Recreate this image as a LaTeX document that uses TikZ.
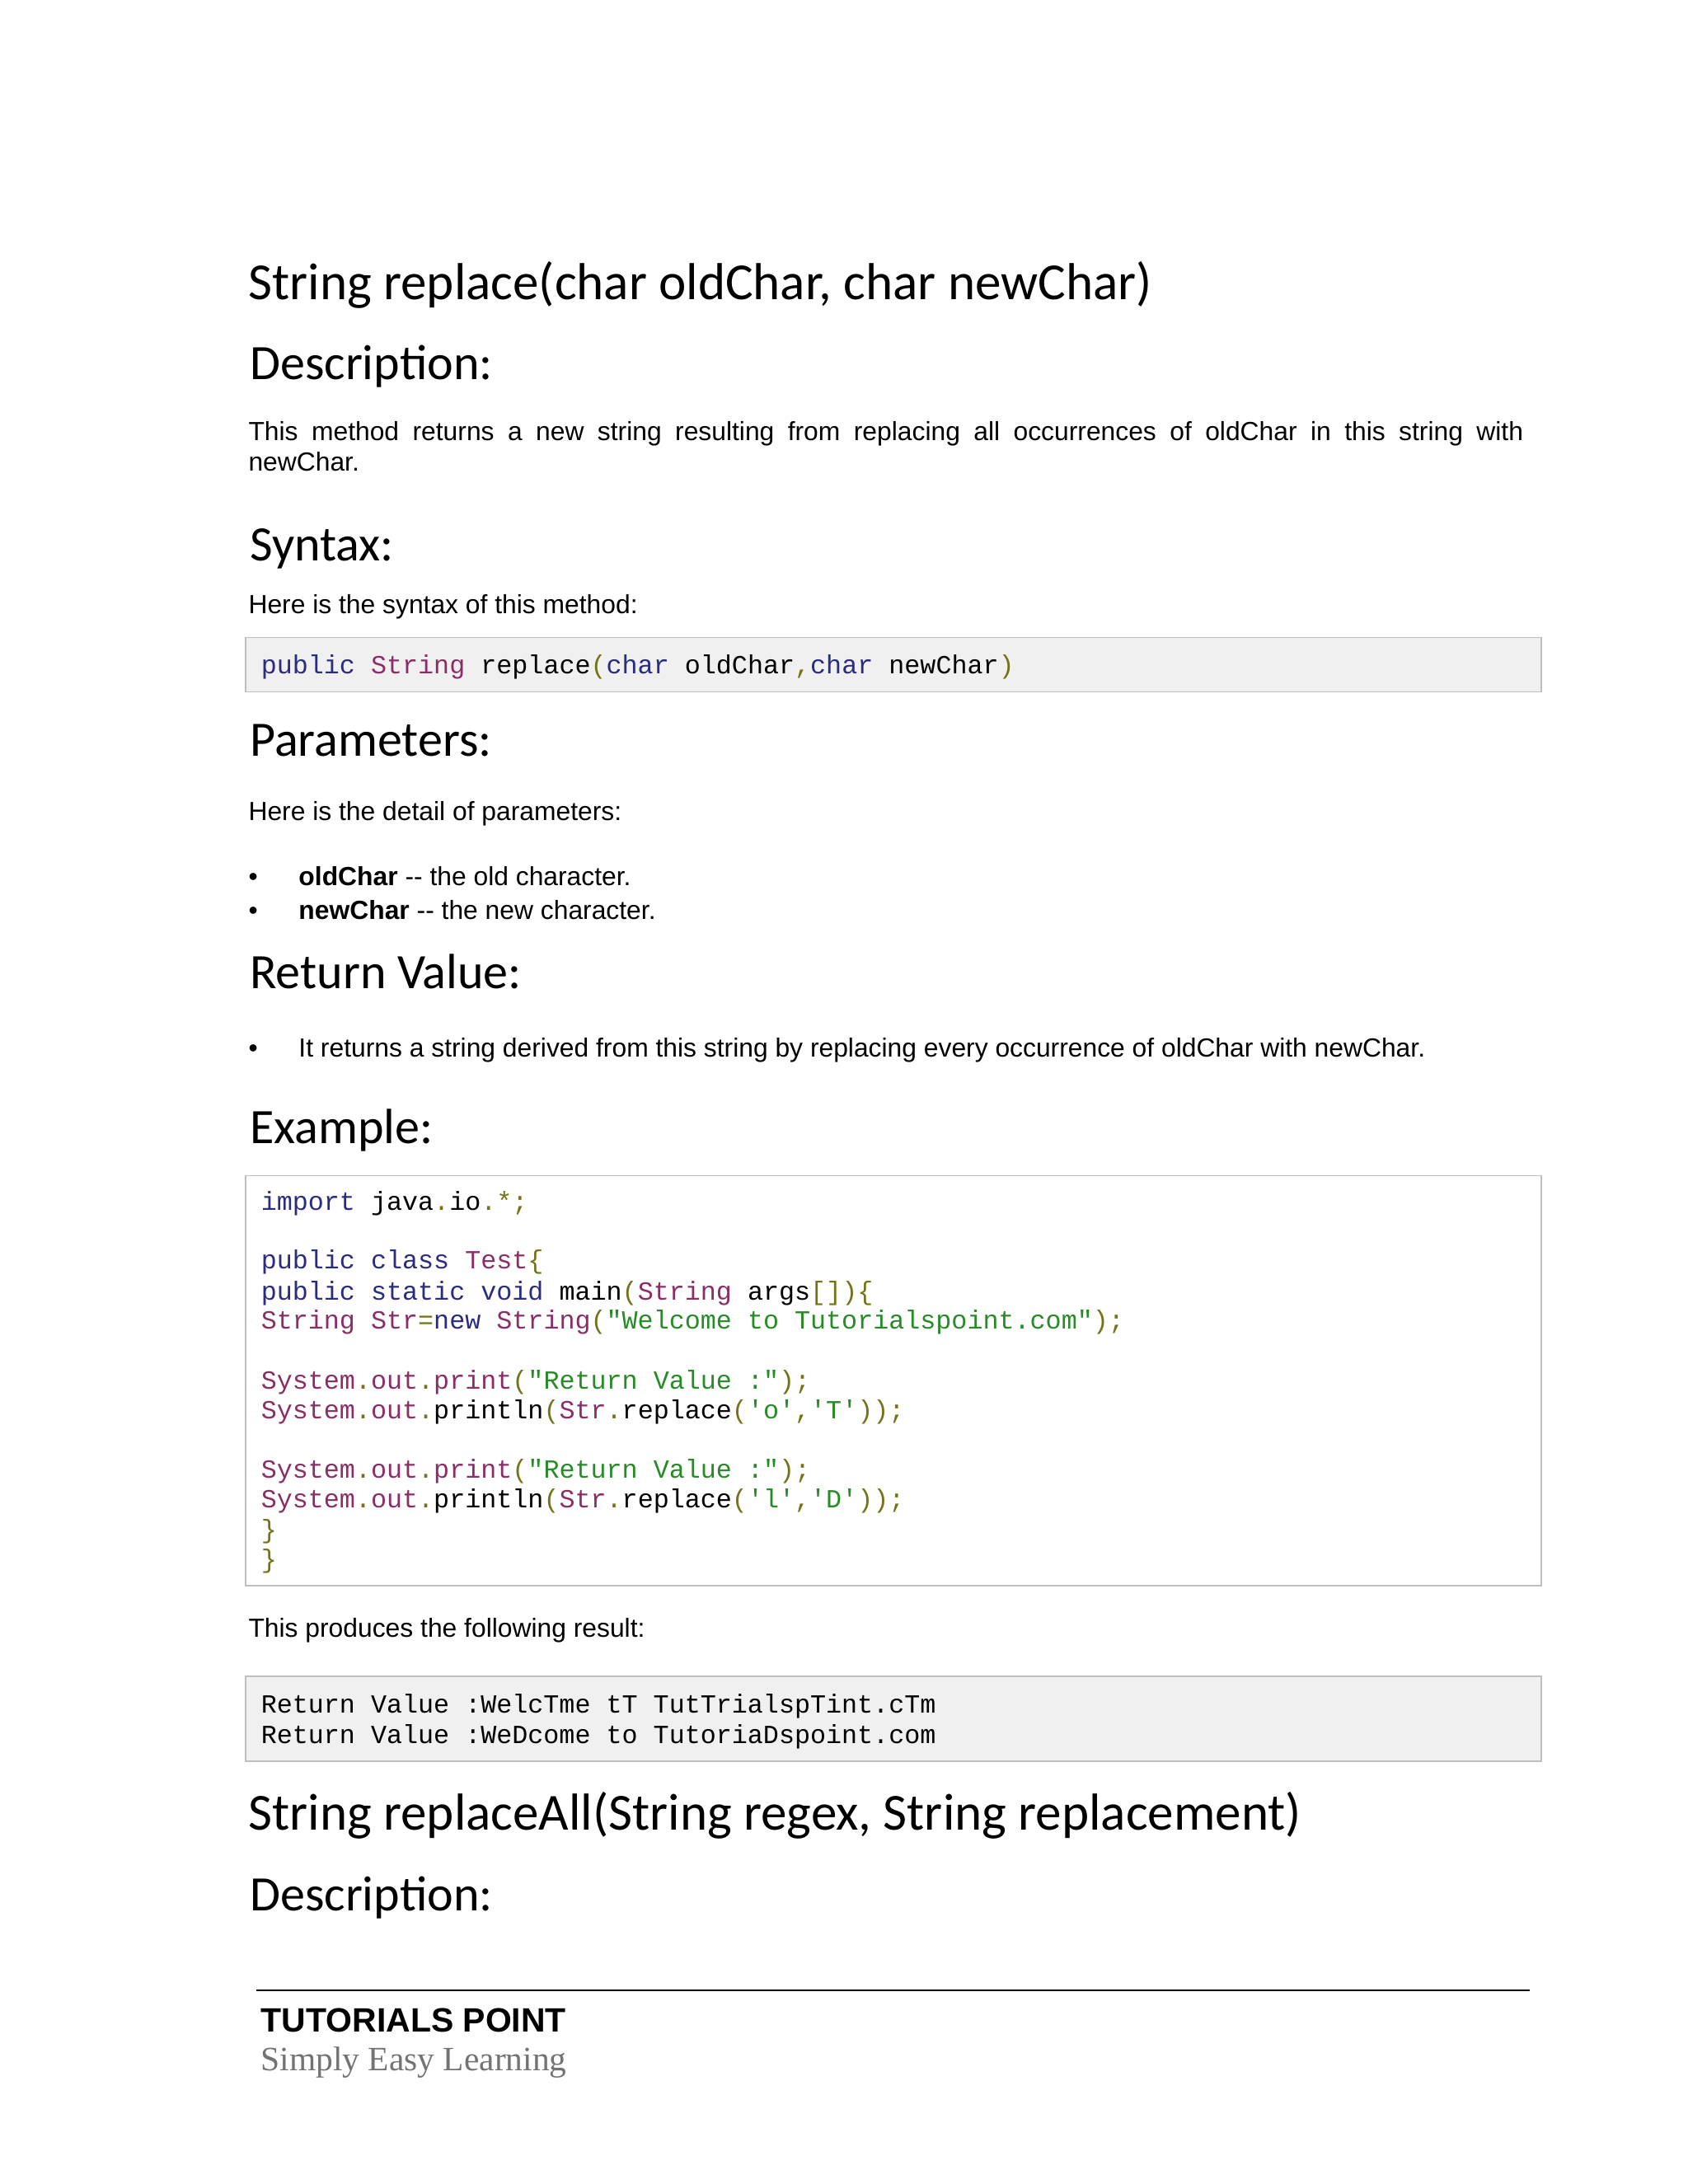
\documentclass[tikz,border=0pt]{standalone}
\usepackage{fontspec}
\setmainfont{Liberation Sans}
\setmonofont{Liberation Mono}
\newfontfamily\headfont{Carlito}
\newfontfamily\footserif{Liberation Serif}
\definecolor{kw}{rgb}{0.17,0.17,0.50}
\definecolor{ty}{rgb}{0.55,0.18,0.40}
\definecolor{pn}{rgb}{0.45,0.45,0.10}
\definecolor{st}{rgb}{0.15,0.55,0.15}
\definecolor{boxgray}{gray}{0.94}
\newcommand{\K}[1]{\textcolor{kw}{#1}}
\newcommand{\T}[1]{\textcolor{ty}{#1}}
\newcommand{\PN}[1]{\textcolor{pn}{#1}}
\newcommand{\SL}[1]{\textcolor{st}{#1}}
\begin{document}
\begin{tikzpicture}[x=1pt,y=-1pt,
  title/.style={anchor=base west,inner sep=0pt,font=\headfont\fontsize{37.3}{44}\selectfont},
  head/.style={anchor=base west,inner sep=0pt,font=\headfont\fontsize{35.5}{42}\selectfont},
  body/.style={anchor=base west,inner sep=0pt,font=\fontsize{18.8}{22}\selectfont},
  code/.style={anchor=base west,inner sep=0pt,font=\ttfamily\fontsize{18.75}{22}\selectfont},
  codebox/.style={draw=black!25,line width=1pt}]
\useasboundingbox (0,0) rectangle (1210,1566);
\fill[white] (0,0) rectangle (1210,1566);
\node[title] (t1) at (178,215) {String replace(char oldChar, char newChar)};
\node[head] (d1) at (179,272) {Description:};
\node[anchor=north west,inner sep=0pt,text width=914pt,align=justify,font=\fontsize{18.8}{22}\selectfont] (p1) at (178,302) {This method returns a new string resulting from replacing all occurrences of oldChar in this string with\linebreak newChar.};
\node[head] (s1) at (179,402) {Syntax:};
\node[body] (s2) at (178,440) {Here is the syntax of this method:};
\draw[codebox,fill=boxgray] (176,457) rectangle (1105,496);
\node[code] (c0) at (187,483) {\K{public} \T{String} replace\PN{(}\K{char} oldChar\PN{,}\K{char} newChar\PN{)}};
\node[head] (pa) at (179,542) {Parameters:};
\node[body] (pa2) at (178,588) {Here is the detail of parameters:};
\node[body] (b1) at (178,635) {•};
\node[body] (b1t) at (214,635) {\textbf{oldChar} -{}- the old character.};
\node[body] (b2) at (178,659) {•};
\node[body] (b2t) at (214,659) {\textbf{newChar} -{}- the new character.};
\node[head] (rv) at (179,709) {Return Value:};
\node[body] (b3) at (178,758) {•};
\node[body] (b3t) at (214,758) {It returns a string derived from this string by replacing every occurrence of oldChar with newChar.};
\node[head] (ex) at (179,820) {Example:};
\draw[codebox,fill=white] (176,843) rectangle (1105,1137);
\node[code] (l1) at (187,868) {\K{import} java\PN{.}io\PN{.*;}};
\node[code] (l2) at (187,910) {\K{public} \K{class} \T{Test}\PN{\{}};
\node[code] (l3) at (187,932) {\K{public} \K{static} \K{void} main\PN{(}\T{String} args\PN{[])\{}};
\node[code] (l4) at (187,953) {\T{String} \T{Str}\PN{=}\K{new} \T{String}\PN{(}\SL{"Welcome to Tutorialspoint.com"}\PN{);}};
\node[code] (l5) at (187,996) {\T{System}\PN{.}\T{out}\PN{.}\T{print}\PN{(}\SL{"Return Value :"}\PN{);}};
\node[code] (l6) at (187,1017) {\T{System}\PN{.}\T{out}\PN{.}println\PN{(}\T{Str}\PN{.}replace\PN{(}\SL{'o'}\PN{,}\SL{'T'}\PN{));}};
\node[code] (l7) at (187,1060) {\T{System}\PN{.}\T{out}\PN{.}\T{print}\PN{(}\SL{"Return Value :"}\PN{);}};
\node[code] (l8) at (187,1081) {\T{System}\PN{.}\T{out}\PN{.}println\PN{(}\T{Str}\PN{.}replace\PN{(}\SL{'l'}\PN{,}\SL{'D'}\PN{));}};
\node[code] (l9) at (187,1103) {\PN{\}}};
\node[code] (l10) at (187,1124) {\PN{\}}};
\node[body] (pr) at (178,1174) {This produces the following result:};
\draw[codebox,fill=boxgray] (176,1202) rectangle (1105,1263);
\node[code] (r1) at (187,1228) {Return Value :WelcTme tT TutTrialspTint.cTm};
\node[code] (r2) at (187,1250) {Return Value :WeDcome to TutoriaDspoint.com};
\node[title] (t2) at (178,1312) {String replaceAll(String regex, String replacement)};
\node[head] (d2) at (179,1370) {Description:};
\coordinate (ra) at (184,1427);
\coordinate (rb) at (1097,1427);
\draw[line width=1.3pt] (ra) -- (rb);
\node[anchor=base west,inner sep=0pt,font=\bfseries\fontsize{24.2}{28}\selectfont] (f1) at (187,1457) {TUTORIALS POINT};
\node[anchor=base west,inner sep=0pt,text=black!55,font=\footserif\fontsize{24.5}{28}\selectfont] (f2) at (187,1485) {Simply Easy Learning};
\end{tikzpicture}
\end{document}
